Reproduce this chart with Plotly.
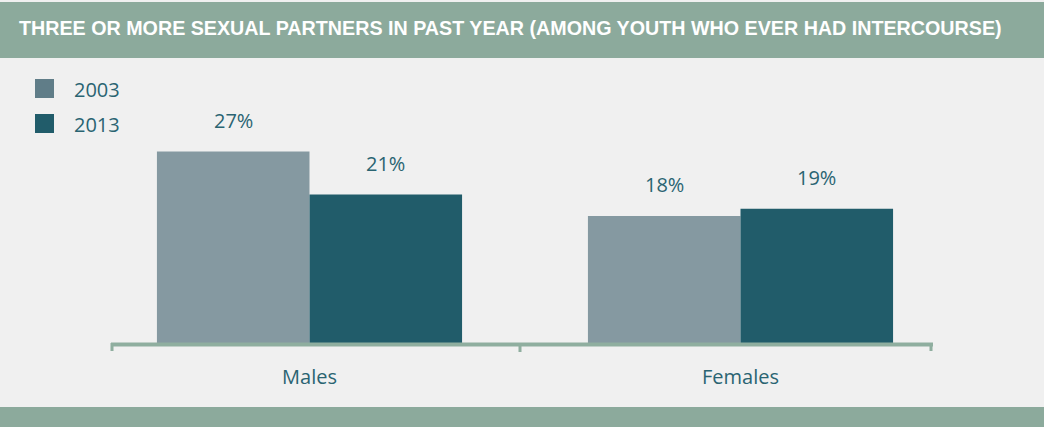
import plotly.graph_objects as go

title_text = "THREE OR MORE SEXUAL PARTNERS IN PAST YEAR (AMONG YOUTH WHO EVER HAD INTERCOURSE)"
categories = ["Males", "Females"]
years = ["2003", "2013"]
values_2003 = [27, 18]
values_2013 = [21, 19]
bar_colors = ["#8599A1", "#215C6A"]
legend_colors = ["#607D88", "#215C6A"]

TEXT = "#2A6472"
BAND = "#8CAA9C"
BG = "#F0F0F0"
FONT = "Open Sans"

x_pos = list(range(len(categories)))
group_width = 0.708
bw = group_width / 2

# margins / pixel conversion helpers
L, R, T, B = 111, 112, 70, 82
W, H = 1044, 427
pw, ph = W - L - R, H - T - B

def px_x(px):
    return (px - L) / pw

def px_y(py):
    return (H - B - py) / ph

fig = go.Figure()
for i, (yr, vals) in enumerate(zip(years, [values_2003, values_2013])):
    fig.add_trace(go.Bar(
        x=x_pos, y=vals, name=yr, marker_color=bar_colors[i],
        marker_line_width=0, showlegend=False,
    ))

annotations = []
for i, vals in enumerate([values_2003, values_2013]):
    off = -bw / 2 if i == 0 else bw / 2
    for xp, v in zip(x_pos, vals):
        annotations.append(dict(
            x=xp + off, y=v, xref="x", yref="y", text=f"{v}%",
            showarrow=False, yshift=31, yanchor="middle",
            font=dict(family=FONT, size=20, color=TEXT),
        ))

# title
annotations.append(dict(
    x=px_x(17), y=px_y(28), xref="paper", yref="paper", text="<b>" + title_text + "</b>",
    showarrow=False, xanchor="left", yanchor="middle",
    font=dict(family="Liberation Sans", size=19.7, color="white"),
))

# legend (drawn)
shapes = []
leg_rows = [(79, 98), (114, 133)]
for i, yr in enumerate(years):
    y0, y1 = leg_rows[i]
    shapes.append(dict(type="rect", xref="paper", yref="paper",
                       x0=px_x(35), x1=px_x(54), y0=px_y(y1), y1=px_y(y0),
                       fillcolor=legend_colors[i], line_width=0, layer="above"))
    annotations.append(dict(x=px_x(72), y=px_y((y0 + y1) / 2 + 1), xref="paper", yref="paper",
                            text=yr, showarrow=False, xanchor="left", yanchor="middle",
                            font=dict(family=FONT, size=20, color=TEXT)))

# header & footer bands
shapes.append(dict(type="rect", xref="paper", yref="paper", x0=px_x(0), x1=px_x(W),
                   y0=px_y(58), y1=px_y(2), fillcolor=BAND, line_width=0, layer="below"))
shapes.append(dict(type="rect", xref="paper", yref="paper", x0=px_x(0), x1=px_x(W),
                   y0=px_y(H), y1=px_y(407), fillcolor=BAND, line_width=0, layer="below"))

# axis line & ticks
AX = "#8FAE9F"
shapes.append(dict(type="line", xref="paper", yref="paper", x0=px_x(111), x1=px_x(933),
                   y0=px_y(344.5), y1=px_y(344.5), line=dict(color=AX, width=4), layer="above"))
for tx, ty in [(112, 351), (520, 352), (931, 351)]:
    shapes.append(dict(type="line", xref="paper", yref="paper", x0=px_x(tx), x1=px_x(tx),
                       y0=px_y(343), y1=px_y(ty), line=dict(color=AX, width=3), layer="above"))

# x range such that category centers land at ~309.5 and ~740.5 px
c0, c1 = 309.5, 740.5
unit = c1 - c0
xr = [(L - c0) / unit, (L + pw - c0) / unit]
ypp = 7.17
yr_range = [0, ph / ypp]

fig.update_layout(
    width=W, height=H,
    margin=dict(l=L, r=R, t=T, b=B, pad=0),
    paper_bgcolor=BG, plot_bgcolor=BG,
    barmode="group", bargap=1 - group_width, bargroupgap=0,
    xaxis=dict(range=xr, tickvals=x_pos, ticktext=categories, showgrid=False,
               zeroline=False, showline=False, ticks="", fixedrange=True,
               tickfont=dict(family=FONT, size=20, color=TEXT), ticklabelstandoff=18),
    yaxis=dict(range=yr_range, visible=False, showgrid=False, zeroline=False, fixedrange=True),
    shapes=shapes, annotations=annotations, showlegend=False,
)

fig.write_html(
    "out.html",
    config={"displayModeBar": False},
    post_script="document.body.style.margin='0';document.body.style.padding='0';",
)
